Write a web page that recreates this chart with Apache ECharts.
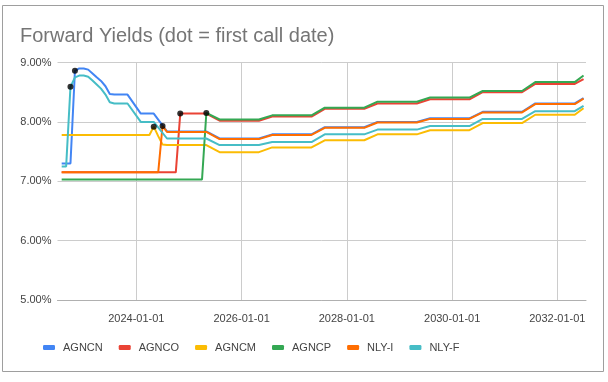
<!DOCTYPE html>
<html>
<head>
<meta charset="utf-8">
<script src="https://cdn.jsdelivr.net/npm/echarts@6/dist/echarts.min.js"></script>
<style>
html,body{margin:0;padding:0;background:#fff;}
#chart{width:608px;height:382px;}
</style>
</head>
<body>
<div id="chart"></div>
<script>
// ---- data (yield in %, by month) ----
const seriesNames = ['AGNCN', 'AGNCO', 'AGNCM', 'AGNCP', 'NLY-I', 'NLY-F'];
const xTickLabels = ['2024-01-01', '2026-01-01', '2028-01-01', '2030-01-01', '2032-01-01'];
const yTicks = [5, 6, 7, 8, 9];

const agncn = [
  ['2022-08-01', 7.30], ['2022-10-01', 7.30], ['2022-11-01', 8.86], ['2022-12-01', 8.90],
  ['2023-01-01', 8.90], ['2023-02-01', 8.88], ['2023-03-01', 8.82], ['2023-04-01', 8.75],
  ['2023-05-01', 8.69], ['2023-06-01', 8.60], ['2023-07-01', 8.47], ['2023-08-01', 8.46],
  ['2023-11-01', 8.46], ['2024-02-01', 8.14], ['2024-05-01', 8.14], ['2024-08-01', 7.84],
  ['2025-05-01', 7.84], ['2025-08-01', 7.72], ['2026-05-01', 7.72], ['2026-08-01', 7.79],
  ['2027-05-01', 7.79], ['2027-08-01', 7.91], ['2028-05-01', 7.91], ['2028-08-01', 8.00],
  ['2029-05-01', 8.00], ['2029-08-01', 8.06], ['2030-05-01', 8.06], ['2030-08-01', 8.17],
  ['2031-05-01', 8.17], ['2031-08-01', 8.31], ['2032-05-01', 8.31], ['2032-07-01', 8.40]
];
const agnco = [
  ['2022-08-01', 7.15], ['2024-10-01', 7.15], ['2024-11-01', 8.14], ['2025-05-01', 8.14],
  ['2025-08-01', 8.02], ['2026-05-01', 8.02], ['2026-08-01', 8.09], ['2027-05-01', 8.09],
  ['2027-08-01', 8.22], ['2028-05-01', 8.22], ['2028-08-01', 8.31], ['2029-05-01', 8.31],
  ['2029-08-01', 8.38], ['2030-05-01', 8.38], ['2030-08-01', 8.50], ['2031-05-01', 8.50],
  ['2031-08-01', 8.64], ['2032-05-01', 8.64], ['2032-07-01', 8.72]
];
const agncm = [
  ['2022-08-01', 7.78], ['2024-04-01', 7.78], ['2024-05-01', 7.92], ['2024-06-01', 7.76],
  ['2024-07-01', 7.62], ['2024-08-01', 7.61], ['2025-05-01', 7.61], ['2025-08-01', 7.49],
  ['2026-05-01', 7.49], ['2026-08-01', 7.57], ['2027-05-01', 7.57], ['2027-08-01', 7.69],
  ['2028-05-01', 7.69], ['2028-08-01', 7.79], ['2029-05-01', 7.79], ['2029-08-01', 7.86],
  ['2030-05-01', 7.86], ['2030-08-01', 7.98], ['2031-05-01', 7.98], ['2031-08-01', 8.12],
  ['2032-05-01', 8.12], ['2032-07-01', 8.23]
];
const agncp = [
  ['2022-08-01', 7.03], ['2025-04-01', 7.03], ['2025-05-01', 8.15], ['2025-08-01', 8.04],
  ['2026-05-01', 8.04], ['2026-08-01', 8.11], ['2027-05-01', 8.11], ['2027-08-01', 8.24],
  ['2028-05-01', 8.24], ['2028-08-01', 8.34], ['2029-05-01', 8.34], ['2029-08-01', 8.41],
  ['2030-05-01', 8.41], ['2030-08-01', 8.52], ['2031-05-01', 8.52], ['2031-08-01', 8.67],
  ['2032-05-01', 8.67], ['2032-07-01', 8.78]
];
const nlyI = [
  ['2022-08-01', 7.15], ['2024-06-01', 7.15], ['2024-07-01', 7.93], ['2024-08-01', 7.83],
  ['2025-05-01', 7.83], ['2025-08-01', 7.71], ['2026-05-01', 7.71], ['2026-08-01', 7.78],
  ['2027-05-01', 7.78], ['2027-08-01', 7.90], ['2028-05-01', 7.90], ['2028-08-01', 7.99],
  ['2029-05-01', 7.99], ['2029-08-01', 8.05], ['2030-05-01', 8.05], ['2030-08-01', 8.16],
  ['2031-05-01', 8.16], ['2031-08-01', 8.30], ['2032-05-01', 8.30], ['2032-07-01', 8.39]
];
const nlyF = [
  ['2022-08-01', 7.25], ['2022-09-01', 7.25], ['2022-10-01', 8.59], ['2022-11-01', 8.75],
  ['2022-12-01', 8.78], ['2023-01-01', 8.78], ['2023-02-01', 8.76], ['2023-03-01', 8.70],
  ['2023-04-01', 8.63], ['2023-05-01', 8.56], ['2023-06-01', 8.46], ['2023-07-01', 8.33],
  ['2023-08-01', 8.31], ['2023-11-01', 8.31], ['2024-02-01', 8.00], ['2024-05-01', 8.00],
  ['2024-08-01', 7.72], ['2025-05-01', 7.72], ['2025-08-01', 7.61], ['2026-05-01', 7.61],
  ['2026-08-01', 7.66], ['2027-05-01', 7.66], ['2027-08-01', 7.79], ['2028-05-01', 7.79],
  ['2028-08-01', 7.87], ['2029-05-01', 7.87], ['2029-08-01', 7.93], ['2030-05-01', 7.93],
  ['2030-08-01', 8.05], ['2031-05-01', 8.05], ['2031-08-01', 8.18], ['2032-05-01', 8.18],
  ['2032-07-01', 8.27]
];
// first call date of each series (same order as seriesNames)
const firstCallDates = ['2022-11-01', '2024-11-01', '2024-05-01', '2025-05-01', '2024-07-01', '2022-10-01'];
const xRange = ['2022-07-03', '2032-07-18'];

// ---- chart ----
const seriesData = [agncn, agnco, agncm, agncp, nlyI, nlyF];
const colors = ['#4285F4', '#EA4335', '#FBBC04', '#34A853', '#FF6D01', '#46BDC6'];
const FONT = '"Liberation Sans", Arial, sans-serif';
const T = s => echarts.time.parse(s).getTime();

const lineSeries = seriesNames.map((name, i) => ({
  name: name,
  type: 'line',
  data: seriesData[i].map(p => [T(p[0]), p[1]]),
  showSymbol: false,
  symbol: 'none',
  lineStyle: { width: 2, color: colors[i] },
  itemStyle: { color: colors[i] },
  emphasis: { disabled: true },
  animation: false,
  z: 2
}));

const callPoints = seriesData.map((d, i) => {
  const p = d.find(q => q[0] === firstCallDates[i]);
  return [T(p[0]), p[1]];
});

const chart = echarts.init(document.getElementById('chart'), null, { renderer: 'canvas' });
chart.setOption({
  backgroundColor: '#ffffff',
  animation: false,
  color: colors,
  title: {
    text: 'Forward Yields (dot = first call date)',
    left: 20,
    top: 26,
    padding: 0,
    textStyle: { fontFamily: FONT, fontSize: 20, fontWeight: 'normal', color: '#757575' }
  },
  legend: {
    data: seriesNames,
    left: 43,
    top: 342,
    icon: 'roundRect',
    itemWidth: 12,
    itemHeight: 5,
    itemGap: 16,
    padding: 0,
    textStyle: { fontFamily: FONT, fontSize: 11, color: '#444', padding: [0, 0, 0, 3] }
  },
  grid: { left: 57.5, right: 22, top: 62.5, bottom: 82, containLabel: false },
  xAxis: {
    type: 'value',
    min: T(xRange[0]),
    max: T(xRange[1]),
    axisLine: { show: true, lineStyle: { color: '#b0b0b0', width: 1 } },
    axisTick: { show: false, customValues: xTickLabels.map(T) },
    axisLabel: {
      customValues: xTickLabels.map(T),
      formatter: v => echarts.time.format(v, '{yyyy}-{MM}-{dd}', false),
      fontFamily: FONT, fontSize: 11, color: '#444', margin: 13, hideOverlap: false
    },
    splitLine: { show: true, lineStyle: { color: '#cccccc', width: 1 } }
  },
  yAxis: {
    type: 'value',
    min: yTicks[0],
    max: yTicks[yTicks.length - 1],
    interval: 1,
    axisLine: { show: false },
    axisTick: { show: false },
    axisLabel: {
      formatter: v => v.toFixed(2) + '%',
      fontFamily: FONT, fontSize: 11, color: '#444', margin: 6
    },
    splitLine: { show: true, lineStyle: { color: '#cccccc', width: 1 } }
  },
  graphic: [{
    type: 'rect',
    shape: { x: 2.5, y: 5.5, width: 601, height: 366 },
    style: { fill: 'none', stroke: '#9e9e9e', lineWidth: 1 },
    silent: true,
    z: 0
  }],
  series: lineSeries.concat([{
    name: 'first call',
    type: 'scatter',
    data: callPoints,
    symbol: 'circle',
    symbolSize: 6,
    itemStyle: { color: '#000000' },
    emphasis: { disabled: true },
    z: 5
  }])
});
</script>
</body>
</html>
